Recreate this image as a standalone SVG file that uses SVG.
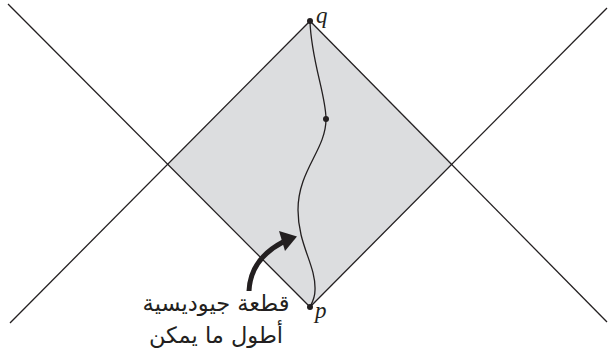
<svg xmlns="http://www.w3.org/2000/svg" width="608" height="357" viewBox="0 0 608 357">
<style>
.ln{stroke:#231f20;stroke-width:1.3;fill:none}
.lbl{font-family:"Liberation Serif",serif;font-style:italic;font-size:23px;fill:#231f20}
.ar{font-family:"DejaVu Sans","Noto Sans",sans-serif;font-size:22.5px;fill:#231f20}
.dot{fill:#231f20}
</style>
<rect width="608" height="357" fill="#ffffff"/>
<g id="region">
<polygon points="310,21 167,164 310,307 453,164" fill="#dcdddf"/>
</g>
<g id="connectors">
<line class="ln" x1="8" y1="4" x2="310" y2="307"/>
<line class="ln" x1="10" y1="323" x2="310" y2="21"/>
<line class="ln" x1="607" y1="8" x2="310" y2="307"/>
<line class="ln" x1="607" y1="322" x2="310" y2="21"/>
<path class="ln" d="M310,21 C311,60 326,95 326,119 C326,150 298,170 298,210 C298,245 316,265 315,290 C315,298 312,303 310,307"/>
<path d="M249,291 C250,270 262,253 283,242" stroke="#231f20" stroke-width="5" fill="none"/>
<polygon points="279,231 297,236.5 285,251" fill="#231f20"/>
</g>
<g id="q">
<circle class="dot" cx="310" cy="21" r="3"/>
<text class="lbl" x="316" y="23">q</text>
</g>
<g id="mid">
<circle class="dot" cx="326" cy="119" r="3"/>
</g>
<g id="p">
<circle class="dot" cx="310" cy="307" r="3"/>
<text class="lbl" x="315" y="318">p</text>
</g>
<g id="label">
<text class="ar" x="216" y="311" text-anchor="middle" direction="rtl">قطعة جيوديسية</text>
<text class="ar" x="216" y="343" text-anchor="middle" direction="rtl">أطول ما يمكن</text>
</g>
</svg>
